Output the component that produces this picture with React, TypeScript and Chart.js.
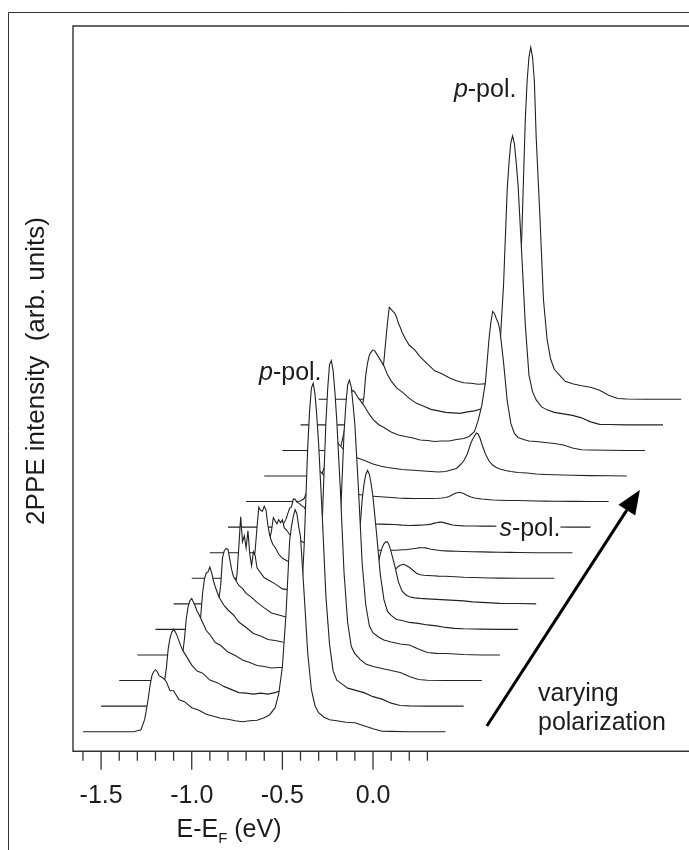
import React, { useEffect, useRef } from "react";
import { Chart, registerables } from "chart.js";

Chart.register(...registerables);

// Energy relative to each trace's first point (eV)
const energyGrid = [
  0, 0.28, 0.3, 0.32, 0.34, 0.35, 0.36, 0.37, 0.38, 0.39, 0.4, 0.41, 0.42, 0.43, 0.44, 0.45, 0.46, 0.48, 0.5,
  0.53, 0.56, 0.6, 0.64, 0.68, 0.72, 0.76, 0.8, 0.84, 0.88, 0.92, 0.96,
  1.0, 1.03, 1.06, 1.08, 1.1, 1.12, 1.14, 1.15, 1.16, 1.17, 1.18, 1.19, 1.2, 1.22, 1.24, 1.26, 1.28, 1.3,
  1.33, 1.36, 1.4, 1.45, 1.5, 1.55, 1.6, 1.65, 1.7, 1.8, 1.9, 2.0,
];

// Intensity of each polarization step (arb. units), front trace first
const trace0 = [
  0, 0, 1, 2, 12, 22, 33, 46, 56, 60, 62, 60, 56, 55, 54, 52, 50, 41, 41,
  32, 30, 24, 21.5, 17.5, 15.5, 13.5, 12.5, 11, 10, 11, 11.5,
  14, 17, 24, 38, 65, 118, 191, 205, 215, 222, 218, 205, 195, 138, 78, 42, 26, 19,
  14.5, 12, 11, 9.5, 9, 6, 3, 0.5, 0.3, 0, 0, 0,
];
const trace1 = [
  0, 0, 1, 2, 10, 25, 38, 57, 68, 74, 77, 74, 70, 65, 60, 56, 53, 47, 41,
  35, 33, 26, 23.5, 19.5, 16.5, 13.5, 13, 12, 13, 12, 13.5,
  16, 22, 30, 50, 90, 160, 260, 295, 318, 323, 312, 290, 262, 190, 110, 62, 35, 26,
  22, 18, 16, 13.5, 9.5, 7, 3, 0.7, 0.3, 0, 0, 0,
];
const trace2 = [
  0, 0, 1, 3, 11, 27, 42, 62, 74, 80, 82, 78, 74, 69, 66, 62, 58, 50, 46,
  38, 35, 28.5, 25, 20.5, 18, 15, 14, 12.5, 13, 13, 14.5,
  17, 24, 30, 52, 92, 160, 258, 292, 316, 320, 310, 288, 260, 190, 108, 58, 34, 27,
  21, 16.5, 14, 12, 10, 8, 4, 1, 0.3, 0, 0, 0,
];
const trace3 = [
  0, 0, 1, 3, 18, 40, 62, 76, 82, 83, 88, 82, 74, 68, 63, 58, 55, 49, 45,
  40, 33, 27.5, 21.5, 19, 15.5, 14.5, 13, 12, 13, 13, 14,
  16, 20, 26, 46, 78, 135, 222, 250, 270, 275, 268, 250, 230, 165, 92, 50, 29, 22,
  18, 15, 13, 11, 10, 6, 2.5, 1.6, 1.5, 0.5, 0, 0,
];
const trace4 = [
  0, 0, 1, 3, 14, 30, 45, 72, 79, 81, 80, 70, 60, 53, 50, 47, 44, 41, 36,
  32, 27, 21.5, 16.5, 14.5, 12.5, 12, 11, 11, 11.5, 12.5, 13,
  14, 16, 18, 26, 45, 80, 130, 145, 155, 159, 155, 145, 132, 95, 55, 30, 18, 14,
  10, 9, 7, 6, 4.5, 3.5, 2, 1, 0.6, 0.3, 0, 0,
];
const trace5 = [
  0, 0, 1, 2, 18, 30, 58, 87, 62, 68, 56, 73, 50, 38, 52, 48, 36, 31, 26,
  23, 20, 15, 14, 11, 10.5, 9, 8, 7.5, 7, 7, 7,
  8, 9, 10, 14, 20, 33, 50, 56, 60, 62, 62, 58, 52, 38, 22, 13, 9, 7,
  6, 5.5, 5, 4.5, 4, 3.5, 3, 2, 1.5, 0.5, 0.3, 0,
];
const trace6 = [
  0, 0, 1, 2, 12, 28, 51, 71, 68, 67, 72, 68, 53, 43, 37, 33, 31, 24, 20,
  17, 14.5, 10.5, 10, 8.5, 8, 7, 6.5, 6, 6, 5.5, 5.5,
  5, 5, 5.5, 6, 7, 8.5, 12, 13, 13.5, 14, 13, 12, 11, 8, 5, 3.5, 3, 2.8,
  2.5, 2.2, 2, 1.5, 1, 0.8, 0.5, 0.3, 0.2, 0, 0, 0,
];
const trace7 = [
  0, 0, 1, 4, 22, 35, 32, 29, 33, 30, 33, 25, 23, 21, 18, 17, 16, 14, 12,
  9, 8, 7, 6, 5.5, 5, 4.5, 4, 3.5, 3, 2.5, 2.5,
  2.5, 2.5, 3, 3, 3.5, 4, 4.5, 4.8, 5, 5, 5, 4.8, 4.5, 3.5, 3, 2.5, 2, 1.8,
  1.6, 1.4, 1.2, 1, 0.8, 0.6, 0.4, 0.3, 0.2, 0, 0, 0,
];
const trace8 = [
  0, 0, 1, 8, 19, 20, 28, 28, 25, 24, 22.5, 21, 20, 17, 16, 14, 13, 11, 9.5,
  8, 7, 6, 5, 4.5, 4, 3.5, 3.2, 3, 2.8, 2.6, 2,
  1.7, 1.8, 2, 2.2, 2.5, 3, 4, 4.4, 4.8, 5, 5, 4.5, 4, 3, 2.2, 1.8, 1.5, 1.3,
  1.2, 1.1, 1, 1, 0.9, 0.8, 0.6, 0.4, 0.3, 0.1, 0, 0,
];
const trace9 = [
  0, 0, 0.5, 3, 12, 20, 28, 32, 34, 33, 31, 30, 28, 26, 24, 21, 19, 15, 12,
  10.5, 9, 7.5, 6.5, 5.5, 5, 4.5, 4, 3.5, 3.2, 3, 3,
  3, 3, 3.3, 3.6, 4, 5, 7, 8, 8.5, 9, 9, 8.5, 8, 6, 4.5, 3.5, 3, 2.5,
  2, 1.6, 1.3, 1.1, 1, 0.8, 0.6, 0.4, 0.3, 0.2, 0.1, 0,
];
const trace10 = [
  0, 0, 0.5, 3, 13, 22, 30, 35, 38, 38, 36, 32, 30, 28, 26, 24, 22, 21, 19,
  17, 15, 12, 10, 8.5, 7.5, 6.5, 6, 5.5, 5, 4.5, 4,
  4.5, 6, 7.5, 11, 15, 22, 33, 37, 40, 43, 42, 38, 32, 22, 15, 11, 8.5, 7,
  5.5, 4.5, 3.5, 3, 2, 1.5, 1.2, 1, 0.7, 0.4, 0.2, 0,
];
const trace11 = [
  0, 0, 0.5, 2, 18, 30, 42, 52, 58, 60, 58, 55, 52, 50, 47, 45, 42, 36, 31,
  26, 23, 18.5, 15.5, 14, 12.5, 10.5, 10, 9, 9.5, 9.5, 11,
  12, 14, 19, 30, 45, 68, 112, 128, 139, 137, 132, 128, 120, 88, 50, 27, 17, 13,
  11, 9.5, 9, 8, 7, 5.5, 2.5, 0.7, 0.4, 0.2, 0, 0,
];
const trace12 = [
  0, 0, 0.5, 3, 18, 28, 50, 62, 70, 73, 75, 74, 71, 68, 65, 62, 59, 50, 44,
  37, 33, 26.5, 21.5, 18.5, 15.5, 14, 12.5, 12, 11.5, 13, 14,
  16, 19, 25, 42, 78, 140, 235, 262, 282, 289, 281, 262, 240, 172, 100, 50, 33, 25,
  18, 15, 12.5, 11, 9.5, 7, 3, 0.5, 0.3, 0, 0, 0,
];
const trace13 = [
  0, 0, 0.5, 2, 12, 24, 38, 58, 77, 92, 90, 88, 86, 82, 76, 72, 67, 60, 54,
  49.5, 42.5, 35.5, 28.5, 25.5, 21.5, 18.5, 16.5, 16, 15, 15.5, 15,
  16, 18, 24, 42, 85, 160, 280, 318, 342, 352, 342, 318, 262, 185, 100, 60, 40, 30,
  24, 18, 15.5, 13.5, 12, 9, 4, 0.8, 0.3, 0.1, 0, 0,
];
const traces = [trace0, trace1, trace2, trace3, trace4, trace5, trace6, trace7, trace8, trace9, trace10, trace11, trace12, trace13];

const startEnergy = -1.6;
const energyStep = 0.1;
const intensityStep = 25.57;

const tickValues = [-1.6, -1.5, -1.4, -1.3, -1.2, -1.1, -1.0, -0.9, -0.8, -0.7, -0.6, -0.5, -0.4, -0.3, -0.2, -0.1, 0, 0.1, 0.2, 0.3];
const labelledTicks = [-1.5, -1.0, -0.5, 0];

const pPolLabels = [
  { e: -0.629, i: 351.7 },
  { e: 0.446, i: 635 },
];
const sPolLabel = { e: 0.697, i: 195.7 };
const captionLines = [
  { text: "varying", e: 0.91, i: 31 },
  { text: "polarization", e: 0.91, i: 1.7 },
];
const arrowFrom = { e: 0.628, i: 5.7 };
const arrowTo = { e: 1.472, i: 241.7 };

const FONT = '"Liberation Sans", Arial, sans-serif';
const INK = "#1c1c1c";
const SIZE = 25;

const decorations = {
  id: "decorations",
  beforeDraw(chart: any) {
    const { ctx, width, height } = chart;
    ctx.save();
    ctx.fillStyle = "#fff";
    ctx.fillRect(0, 0, width, height);
    ctx.strokeStyle = "#333";
    ctx.lineWidth = 1;
    ctx.beginPath();
    ctx.moveTo(8.5, height);
    ctx.lineTo(8.5, 12.5);
    ctx.lineTo(width, 12.5);
    ctx.stroke();
    ctx.restore();
  },
  afterDraw(chart: any) {
    const { ctx, chartArea, scales } = chart;
    const sx = scales.x;
    const sy = scales.y;
    const X = (v: number) => sx.getPixelForValue(v);
    const Y = (v: number) => sy.getPixelForValue(v);
    ctx.save();

    // axis frame
    ctx.strokeStyle = "#333";
    ctx.lineWidth = 1.4;
    ctx.beginPath();
    ctx.moveTo(chartArea.right, chartArea.top);
    ctx.lineTo(chartArea.left, chartArea.top);
    ctx.lineTo(chartArea.left, chartArea.bottom);
    ctx.lineTo(chartArea.right, chartArea.bottom);
    ctx.stroke();

    // tick marks
    ctx.lineWidth = 1.3;
    ctx.beginPath();
    tickValues.forEach((v) => {
      const major = labelledTicks.includes(v);
      ctx.moveTo(X(v), chartArea.bottom);
      ctx.lineTo(X(v), chartArea.bottom + (major ? 18.5 : 9.5));
    });
    ctx.stroke();

    ctx.fillStyle = INK;
    ctx.textBaseline = "alphabetic";
    ctx.textAlign = "left";

    const polLabel = (letter: string, x: number, y: number) => {
      ctx.font = `italic ${SIZE}px ${FONT}`;
      ctx.fillText(letter, x, y);
      const w = ctx.measureText(letter).width;
      ctx.font = `${SIZE}px ${FONT}`;
      ctx.fillText("-pol.", x + w, y);
    };
    pPolLabels.forEach((l) => polLabel("p", X(l.e), Y(l.i)));

    // s-pol label sits on a white patch that interrupts its trace
    ctx.fillStyle = "#fff";
    ctx.fillRect(X(sPolLabel.e) - 3, Y(sPolLabel.i) - 22, 64, 30);
    ctx.fillStyle = INK;
    polLabel("s", X(sPolLabel.e), Y(sPolLabel.i));

    ctx.font = `${SIZE}px ${FONT}`;
    captionLines.forEach((l) => ctx.fillText(l.text, X(l.e), Y(l.i)));

    // arrow
    const x0 = X(arrowFrom.e);
    const y0 = Y(arrowFrom.i);
    const x1 = X(arrowTo.e);
    const y1 = Y(arrowTo.i);
    const ang = Math.atan2(y1 - y0, x1 - x0);
    const headLen = 24;
    const headHalf = 10;
    const bx = x1 - headLen * Math.cos(ang);
    const by = y1 - headLen * Math.sin(ang);
    ctx.strokeStyle = "#000";
    ctx.lineWidth = 3;
    ctx.beginPath();
    ctx.moveTo(x0, y0);
    ctx.lineTo(bx, by);
    ctx.stroke();
    ctx.fillStyle = "#000";
    ctx.beginPath();
    ctx.moveTo(x1, y1);
    ctx.lineTo(bx - headHalf * Math.sin(ang), by + headHalf * Math.cos(ang));
    ctx.lineTo(bx + headHalf * Math.sin(ang), by - headHalf * Math.cos(ang));
    ctx.closePath();
    ctx.fill();

    // axis titles
    ctx.fillStyle = INK;
    ctx.font = `${SIZE}px ${FONT}`;
    let tx = 176.5;
    const ty = 836.5;
    ctx.fillText("E-E", tx, ty);
    tx += ctx.measureText("E-E").width;
    ctx.font = `15px ${FONT}`;
    ctx.fillText("F", tx, ty + 6.5);
    tx += ctx.measureText("F").width;
    ctx.font = `${SIZE}px ${FONT}`;
    ctx.fillText(" (eV)", tx, ty);

    ctx.save();
    ctx.translate(44, 371);
    ctx.rotate(-Math.PI / 2);
    ctx.textAlign = "center";
    ctx.font = `26px ${FONT}`;
    ctx.fillText("2PPE intensity  (arb. units)", 0, 0);
    ctx.restore();

    ctx.restore();
  },
};

export default function App() {
  const ref = useRef<HTMLCanvasElement>(null);

  useEffect(() => {
    document.body.style.margin = "0";
    const datasets = traces.map((values, t) => ({
      label: `trace ${t}`,
      data: values.map((v, k) => ({
        x: startEnergy + t * energyStep + energyGrid[k],
        y: t * intensityStep + v,
      })),
      borderColor: "#222222",
      borderWidth: 1.1,
      backgroundColor: "#ffffff",
      fill: "start",
      pointRadius: 0,
      tension: 0,
    }));

    const chart = new Chart(ref.current as HTMLCanvasElement, {
      type: "line",
      data: { datasets },
      plugins: [decorations],
      options: {
        animation: false,
        responsive: false,
        devicePixelRatio: 1,
        parsing: false,
        normalized: true,
        layout: { padding: { top: 26, left: 0, right: 0, bottom: 0 } },
        plugins: {
          legend: { display: false },
          tooltip: { enabled: false },
          title: { display: false },
          filler: { drawTime: "beforeDatasetDraw", propagate: false },
        },
        scales: {
          x: {
            type: "linear",
            min: -1.655,
            max: 1.743,
            border: { display: false },
            grid: { display: false },
            afterBuildTicks: (scale: any) => {
              scale.ticks = tickValues.map((value) => ({ value }));
            },
            afterFit: (scale: any) => {
              scale.height = 98.7;
            },
            ticks: {
              autoSkip: false,
              maxRotation: 0,
              padding: 22,
              color: INK,
              font: { family: FONT, size: SIZE },
              callback: (v: any) => (labelledTicks.includes(v) ? Number(v).toFixed(1) : ""),
            },
          },
          y: {
            type: "linear",
            min: -19.6,
            max: 705.7,
            border: { display: false },
            grid: { display: false },
            ticks: { display: false },
            afterFit: (scale: any) => {
              scale.width = 73;
            },
          },
        },
      } as any,
    });
    return () => chart.destroy();
  }, []);

  return <canvas ref={ref} width={689} height={850} style={{ display: "block", width: 689, height: 850 }} />;
}
